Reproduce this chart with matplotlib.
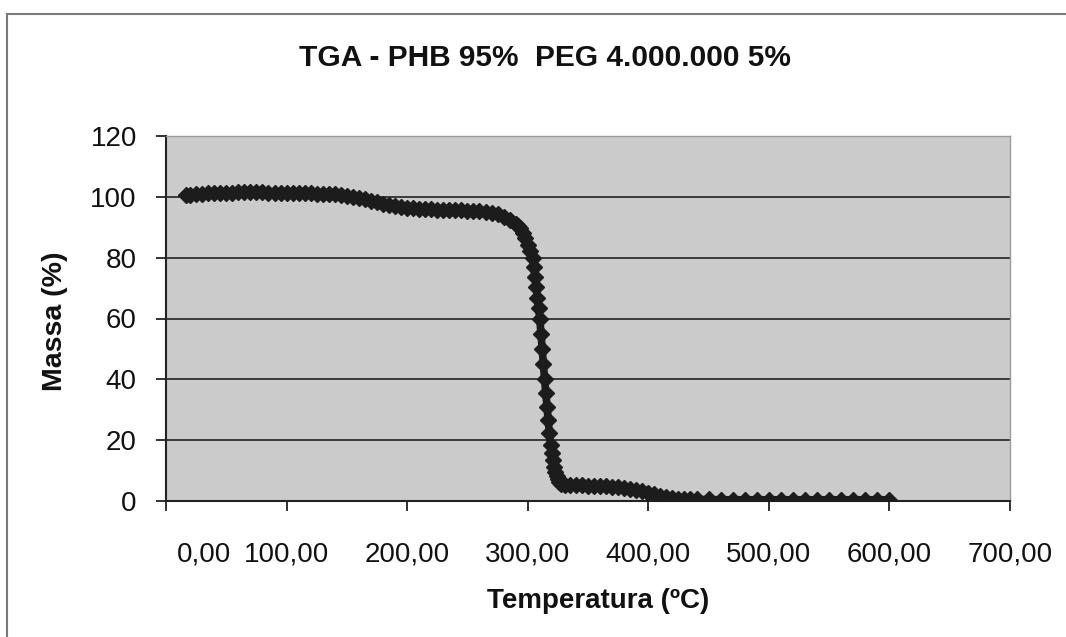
import matplotlib
matplotlib.use("Agg")
import matplotlib.pyplot as plt
import matplotlib.transforms as mtransforms
from matplotlib.lines import Line2D

plt.rcParams['font.family'] = ['Liberation Sans', 'DejaVu Sans']

# TGA data (temperature in ºC, mass in %)
temperatura = [17, 20, 25, 30, 35, 40, 45, 50, 55, 60,
               65, 70, 75, 80, 85, 90, 95, 100, 105, 110,
               115, 120, 125, 130, 135, 140, 145, 150, 155, 160,
               165, 170, 175, 180, 185, 190, 195, 200, 205, 210,
               215, 220, 225, 230, 235, 240, 245, 250, 255, 260,
               265, 270, 275, 280, 285, 290, 292, 294, 296, 298,
               300, 302, 304, 305, 306, 307, 308, 309, 310, 311,
               312, 313, 314, 315, 316, 317, 318, 319, 320, 321,
               322, 323, 324, 325, 326, 328, 331, 335, 340, 345,
               350, 355, 360, 365, 370, 375, 380, 385, 390, 395,
               400, 405, 410, 415, 420, 425, 430, 435, 440, 450,
               460, 470, 480, 490, 500, 510, 520, 530, 540, 550,
               560, 570, 580, 590, 600]
massa = [100.5, 100.7, 100.9, 101.0, 101.1, 101.2, 101.3, 101.4, 101.4, 101.5,
         101.5, 101.5, 101.5, 101.5, 101.4, 101.4, 101.3, 101.3, 101.2, 101.2,
         101.1, 101.1, 101.0, 101.0, 100.9, 100.8, 100.6, 100.4, 100.1, 99.7,
         99.2, 98.7, 98.2, 97.7, 97.2, 96.9, 96.6, 96.4, 96.2, 96.1,
         96.0, 95.9, 95.8, 95.8, 95.7, 95.6, 95.6, 95.5, 95.4, 95.3,
         95.1, 94.8, 94.3, 93.5, 92.5, 91.2, 90.5, 89.6, 88.2, 86.4,
         84.3, 82.1, 79.8, 77.0, 73.6, 70.2, 66.8, 63.4, 60.0, 55.0,
         50.0, 45.0, 40.0, 35.5, 31.0, 26.5, 22.2, 18.5, 15.8, 13.4,
         11.3, 9.6, 8.2, 7.1, 6.4, 5.7, 5.4, 5.3, 5.2, 5.1,
         5.0, 5.0, 4.9, 4.8, 4.7, 4.6, 4.4, 4.1, 3.7, 3.2,
         2.7, 2.2, 1.7, 1.3, 1.0, 0.7, 0.6, 0.5, 0.5, 0.5,
         0.4, 0.4, 0.4, 0.4, 0.4, 0.4, 0.4, 0.4, 0.4, 0.4,
         0.4, 0.4, 0.4, 0.4, 0.4]

x_ticks = [0, 100, 200, 300, 400, 500, 600, 700]
x_tick_labels = ['0,00', '100,00', '200,00', '300,00', '400,00', '500,00', '600,00', '700,00']
y_ticks = [0, 20, 40, 60, 80, 100, 120]

W, H = 1066, 637
fig = plt.figure(figsize=(W / 100, H / 100), dpi=100)
fig.patch.set_facecolor('white')

# posicao da area do grafico em pixels
left, right, top, bottom = 166, 1010, 136, 501
ax = fig.add_axes([left / W, 1 - bottom / H, (right - left) / W, (bottom - top) / H])
ax.set_facecolor('#cbcbcb')

ax.plot(temperatura, massa, color='#1c1c1c', linewidth=5.5, marker='D',
        markersize=8, markeredgecolor='#1c1c1c', markerfacecolor='#1c1c1c', zorder=3)

ax.set_xlim(0, 700)
ax.set_ylim(0, 120)
ax.set_xticks(x_ticks)
ax.set_xticklabels(x_tick_labels)
ax.set_yticks(y_ticks)

ax.yaxis.grid(True, color='#222222', linewidth=1.2)
ax.set_axisbelow(True)

for side in ['top', 'right']:
    ax.spines[side].set_color('#9a9a9a')
    ax.spines[side].set_linewidth(1.0)
for side in ['left', 'bottom']:
    ax.spines[side].set_color('#222222')
    ax.spines[side].set_linewidth(1.5)

ax.tick_params(axis='both', direction='out', length=7, width=1.3, color='#222222',
               labelsize=20, labelcolor='#111111')
ax.tick_params(axis='x', pad=22)
ax.tick_params(axis='y', pad=14)

# o rotulo "0,00" fica deslocado para a direita no original
first = ax.get_xticklabels()[0]
first.set_transform(first.get_transform() + mtransforms.ScaledTranslation(0.38, 0, fig.dpi_scale_trans))

fig.text(545 / W, 1 - 58 / H, 'TGA - PHB 95%  PEG 4.000.000 5%', ha='center', va='center',
         fontsize=21.5, fontweight='bold', color='#111111')
fig.text(598 / W, 1 - 601 / H, 'Temperatura (ºC)', ha='center', va='center',
         fontsize=20, fontweight='bold', color='#111111')
fig.text(55 / W, 1 - 321 / H, 'Massa (%)', ha='center', va='center', rotation=90,
         fontsize=20.5, fontweight='bold', color='#111111')

# moldura externa (so topo e esquerda aparecem)
fig.add_artist(Line2D([7 / W, 1.0], [1 - 13.5 / H, 1 - 13.5 / H], color='#7a7a7a', linewidth=1.5))
fig.add_artist(Line2D([7 / W, 7 / W], [0.0, 1 - 13.5 / H], color='#7a7a7a', linewidth=1.5))

fig.savefig('out.png', dpi=100)
